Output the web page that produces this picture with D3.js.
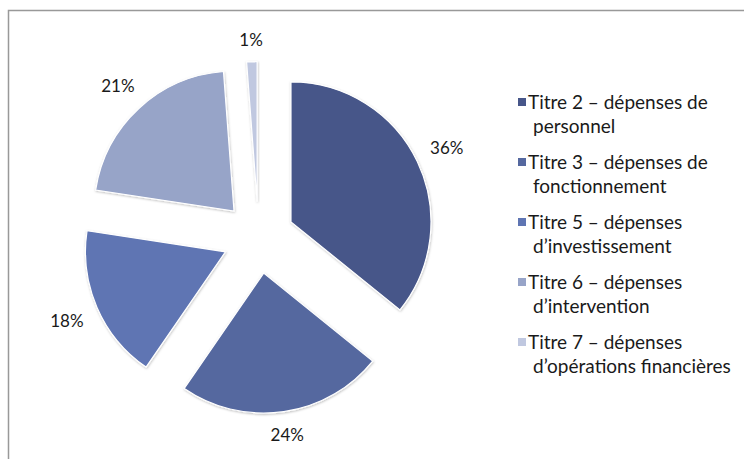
<!DOCTYPE html>
<html>
<head>
<meta charset="utf-8">
<script src="https://cdn.jsdelivr.net/npm/d3@7"></script>
<style>
  html, body { margin: 0; padding: 0; background: #fff; }
  svg { display: block; }
  text { font-family: Lato, "Open Sans", sans-serif; fill: #1a1a1a; }
</style>
</head>
<body>
<svg id="chart" width="744" height="459"></svg>
<script>
const categories = [
  "Titre 2 – dépenses de\npersonnel",
  "Titre 3 – dépenses de\nfonctionnement",
  "Titre 5 – dépenses\nd’investissement",
  "Titre 6 – dépenses\nd’intervention",
  "Titre 7 – dépenses\nd’opérations financières"
];
const values = [35.8, 23.8, 17.8, 21.4, 1.2];
const colors = ["#475689", "#55689F", "#5F75B3", "#97A4C8", "#C0C8E0"];

const W = 744, H = 459;
const cx = 258.5, cy = 237.5, R = 140, explode = 36;
const labelFont = 17, legendFont = 19;

const svg = d3.select("#chart");

// frame
svg.append("path")
  .attr("d", `M8.5,${H} V10.5 H${W}`)
  .attr("fill", "none").attr("stroke", "#999").attr("stroke-width", 1.5);

const defs = svg.append("defs");
const f = defs.append("filter").attr("id", "sh").attr("x", "-20%").attr("y", "-20%").attr("width", "140%").attr("height", "140%");
f.append("feDropShadow").attr("dx", 0.5).attr("dy", 1).attr("stdDeviation", 1)
  .attr("flood-color", "#000").attr("flood-opacity", 0.25);

const total = d3.sum(values);
const pie = d3.pie().sort(null).value(d => d).startAngle(0).endAngle(2 * Math.PI);
const arcs = pie(values);
const arc = d3.arc().innerRadius(0).outerRadius(R);

const g = svg.append("g").attr("transform", `translate(${cx},${cy})`);

arcs.forEach((a, i) => {
  const mid = (a.startAngle + a.endAngle) / 2;
  const dx = Math.sin(mid), dy = -Math.cos(mid);
  const ox = explode * dx, oy = explode * dy;
  g.append("path")
    .attr("d", arc(a))
    .attr("transform", `translate(${ox},${oy})`)
    .attr("fill", colors[i])
    .attr("stroke", "#fff").attr("stroke-width", 1.2)
    .attr("filter", "url(#sh)");

  // label outside end
  const label = Math.round(values[i] / total * 100) + "%";
  const t = g.append("text")
    .attr("font-size", labelFont)
    .attr("text-anchor", "middle")
    .text(label);
  const bb = t.node().getBBox();
  const hw = bb.width / 2, hh = 6.2;
  const pad = 15;
  const dist = R + pad + hw * Math.abs(dx) + hh * Math.abs(dy);
  const lx = ox + dist * dx, ly = oy + dist * dy;
  t.attr("x", lx).attr("y", ly + hh);
});

// legend
const lg = svg.append("g");
categories.forEach((c, i) => {
  const lines = c.split("\n");
  const by = 109 + i * 60;
  lg.append("rect")
    .attr("x", 518).attr("y", by - 11).attr("width", 8).attr("height", 8)
    .attr("fill", colors[i]);
  lines.forEach((ln, j) => {
    lg.append("text")
      .attr("x", j === 0 ? 528 : 533)
      .attr("y", by + j * 24)
      .attr("font-size", legendFont)
      .text(ln);
  });
});
</script>
</body>
</html>
